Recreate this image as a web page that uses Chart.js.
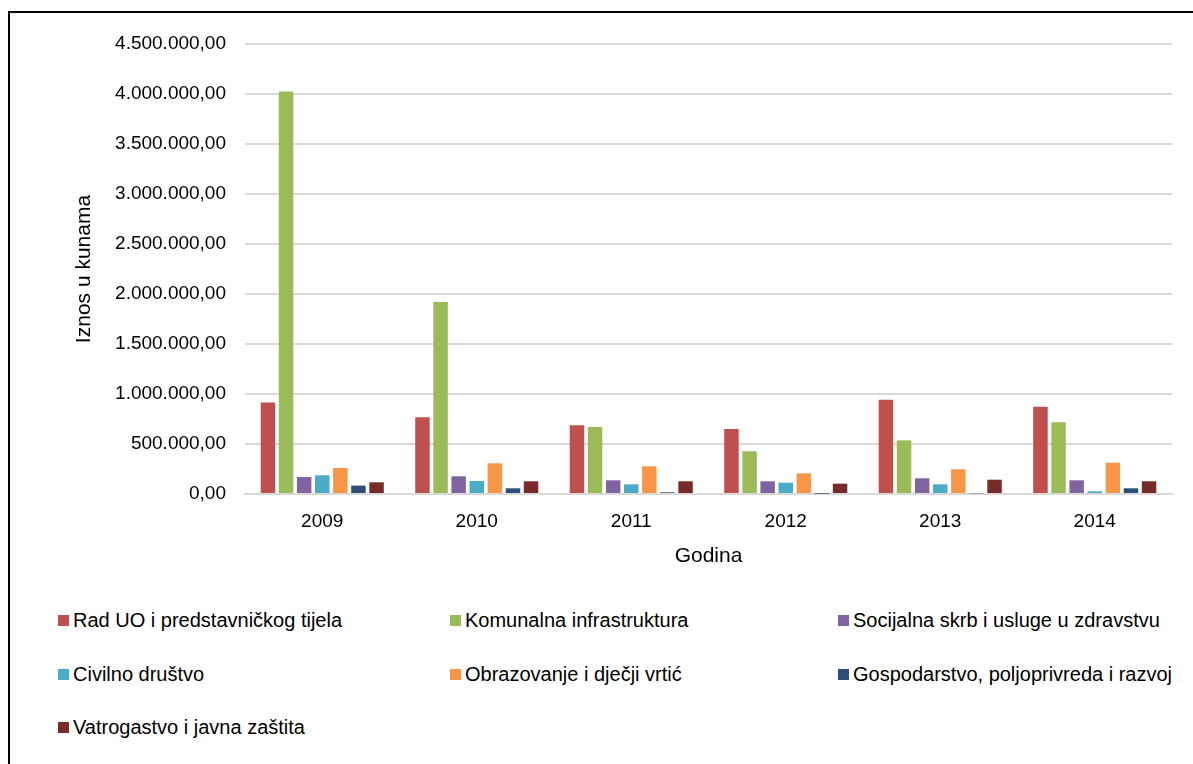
<!DOCTYPE html>
<html>
<head>
<meta charset="utf-8">
<script src="https://cdn.jsdelivr.net/npm/chart.js@4.4.1/dist/chart.umd.min.js"></script>
<style>
  html, body { margin: 0; padding: 0; background: #fff; }
  body { width: 1193px; height: 764px; overflow: hidden; position: relative; font-family: "Liberation Sans", Arial, sans-serif; }
  .frame { position: absolute; left: 8px; top: 11px; width: 1200px; height: 800px; border: 2px solid #000; box-sizing: border-box; }
  .chart-wrap { position: absolute; left: 0; top: 0; width: 1193px; height: 580px; }
  .legend { position: absolute; left: 58px; top: 607px; display: grid; grid-template-columns: 392px 388px 360px; grid-auto-rows: 53.5px; font-size: 20px; color: #000; }
  .legend div { display: flex; align-items: flex-start; white-space: nowrap; line-height: 26px; }
  .legend span.box { width: 11px; height: 11px; margin: 8px 4px 0 0; flex: none; }
</style>
</head>
<body>
<div class="frame"></div>
<div class="chart-wrap"><canvas id="budget-barchart"></canvas></div>
<div class="legend" id="budget-legend"></div>
<script>
const years = ['2009', '2010', '2011', '2012', '2013', '2014'];

const radUO = [914000, 767000, 687000, 650000, 943000, 873000];
const komunalna = [4026000, 1920000, 670000, 427000, 537000, 717000];
const socijalna = [170000, 177000, 137000, 127000, 157000, 137000];
const civilno = [187000, 130000, 97000, 113000, 97000, 27000];
const obrazovanje = [260000, 307000, 277000, 207000, 247000, 313000];
const gospodarstvo = [84000, 57000, 17000, 3000, 7000, 57000];
const vatrogastvo = [117000, 127000, 127000, 103000, 143000, 127000];

const seriesNames = [
  'Rad UO i predstavničkog tijela',
  'Komunalna infrastruktura',
  'Socijalna skrb i usluge u zdravstvu',
  'Civilno društvo',
  'Obrazovanje i dječji vrtić',
  'Gospodarstvo, poljoprivreda i razvoj',
  'Vatrogastvo i javna zaštita',
];
const seriesValues = [radUO, komunalna, socijalna, civilno, obrazovanje, gospodarstvo, vatrogastvo];
const seriesColors = ['#C0504D', '#9BBB59', '#8064A2', '#4BACC6', '#F79646', '#2C4D75', '#772C2A'];

// hr format: 4.500.000,00
function formatKn(value) {
  const [whole, dec] = Number(value).toFixed(2).split('.');
  return whole.replace(/\B(?=(\d{3})+(?!\d))/g, '.') + ',' + dec;
}

const font = 'Liberation Sans, Arial, sans-serif';

const ctx = document.getElementById('budget-barchart').getContext('2d');
const chart = new Chart(ctx, {
  type: 'bar',
  data: {
    labels: years,
    datasets: seriesNames.map((name, i) => ({
      label: name,
      data: seriesValues[i],
      backgroundColor: seriesColors[i],
      borderWidth: 0,
      categoryPercentage: 0.82,
      barPercentage: 0.8,
    })),
  },
  options: {
    responsive: true,
    maintainAspectRatio: false,
    animation: false,
    layout: {
      padding: { top: 44, right: 21, bottom: 7, left: 68 },
    },
    plugins: {
      legend: { display: false },
      tooltip: { enabled: false },
    },
    scales: {
      x: {
        grid: { display: false },
        border: { display: true, color: '#D9D9D9', width: 2 },
        ticks: {
          color: '#000',
          padding: 8,
          font: { family: font, size: 19 },
        },
        title: {
          display: true,
          text: 'Godina',
          color: '#000',
          padding: { top: 3, bottom: 4 },
          font: { family: font, size: 21 },
        },
      },
      y: {
        min: 0,
        max: 4500000,
        afterFit(scale) {
          scale.width = 177;
        },
        grid: { color: '#D9D9D9', lineWidth: 2, drawTicks: false },
        border: { display: false },
        ticks: {
          stepSize: 500000,
          color: '#000',
          padding: 19,
          font: { family: font, size: 19 },
          callback: (v) => formatKn(v),
        },
        title: {
          display: true,
          text: 'Iznos u kunama',
          color: '#000',
          font: { family: font, size: 21 },
        },
      },
    },
  },
});

// legend laid out in three aligned columns like the original
const legendEl = document.getElementById('budget-legend');
chart.data.datasets.forEach((ds) => {
  const item = document.createElement('div');
  const box = document.createElement('span');
  box.className = 'box';
  box.style.background = ds.backgroundColor;
  item.appendChild(box);
  item.appendChild(document.createTextNode(ds.label));
  legendEl.appendChild(item);
});
</script>
</body>
</html>
